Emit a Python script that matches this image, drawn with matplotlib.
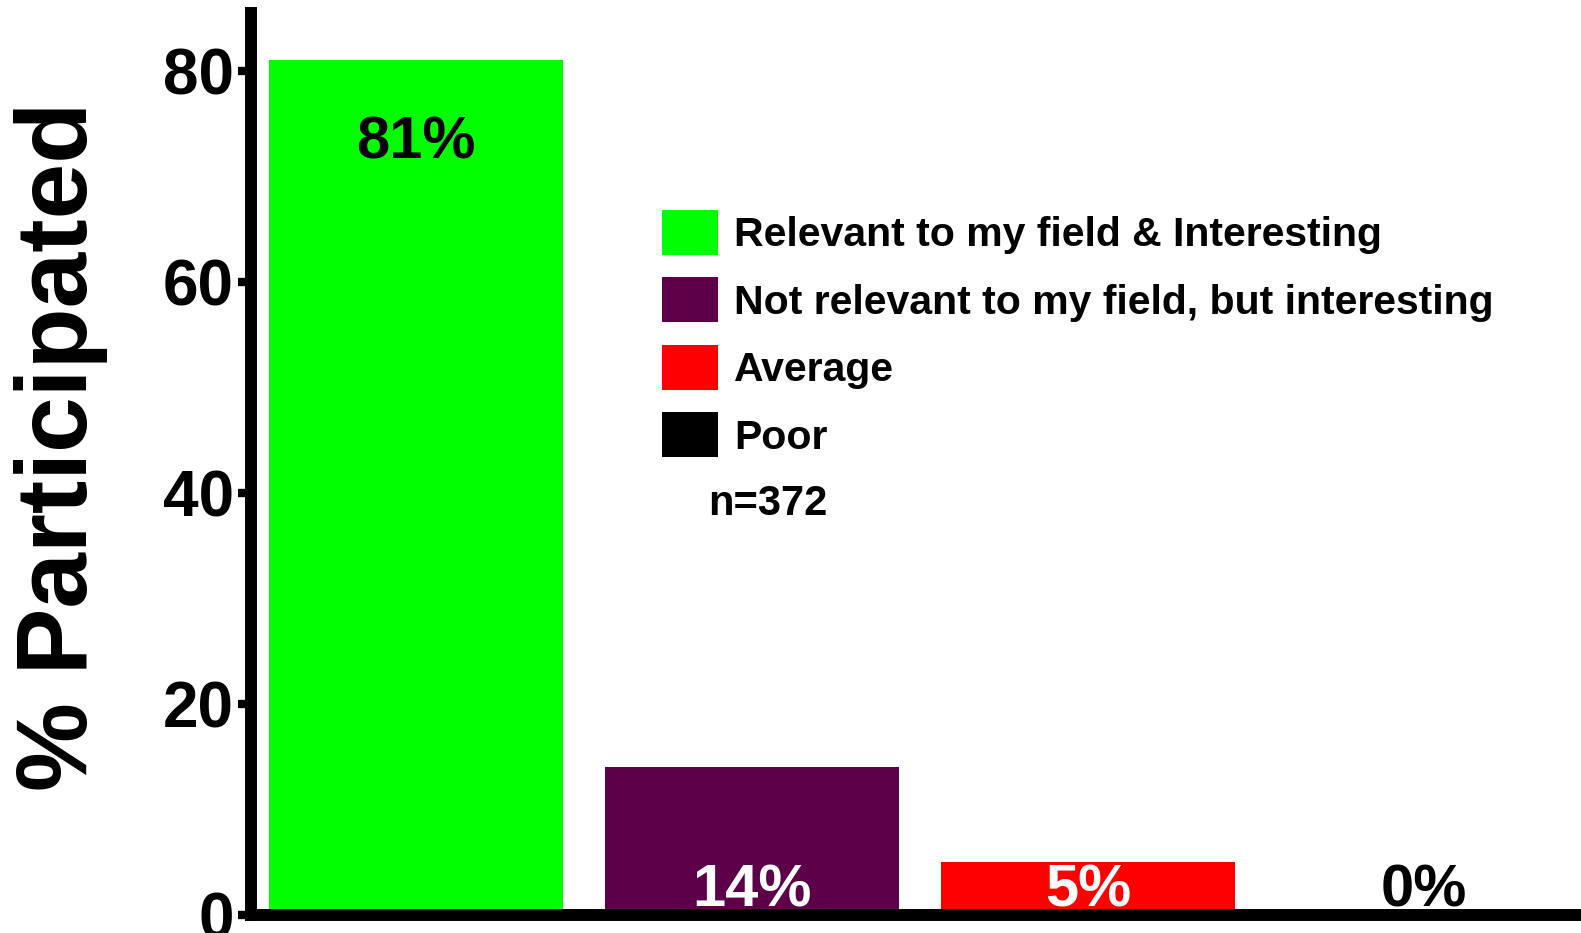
import matplotlib
matplotlib.use("Agg")
import matplotlib.pyplot as plt

plt.rcParams["font.family"] = ["Liberation Sans", "DejaVu Sans"]
plt.rcParams["font.weight"] = "bold"

# survey responses
categories = [
    "Relevant to my field & Interesting",
    "Not relevant to my field, but interesting",
    "Average",
    "Poor",
]
percent = [81, 14, 5, 0]
bar_colors = ["#00FF00", "#5E0049", "#FF0000", "#000000"]
label_colors = ["black", "white", "white", "black"]
yticks = [0, 20, 40, 60, 80]
n_total = 372

W, H = 1581, 933
fig = plt.figure(figsize=(W / 100, H / 100), dpi=100, facecolor="white")
ax = fig.add_axes([251 / W, 1 - 915 / H, 1 - 251 / W, (915 - 13) / H])

x = list(range(len(percent)))
bars = ax.bar(x, percent, width=0.875, color=bar_colors, zorder=1)

for xi, v, c in zip(x, percent, label_colors):
    # tall bars get the label inside the top, short ones sit on the axis
    ly = v - 9.3 if v > 20 else 0.8
    ax.text(xi, ly, f"{v}%", ha="center", va="baseline", color=c,
            fontsize=43, fontweight="bold", zorder=2)

ax.set_xlim(-0.491, 3.467)
ax.set_ylim(0, 85.5)
ax.set_yticks(yticks)
ax.set_xticks([])

for side in ["top", "right"]:
    ax.spines[side].set_visible(False)
for side in ["left", "bottom"]:
    ax.spines[side].set_linewidth(8.6)
    ax.spines[side].set_color("black")
    ax.spines[side].set_zorder(3)
    ax.spines[side].set_capstyle("projecting")

ax.tick_params(axis="y", direction="out", length=9.5, width=6, pad=3,
               labelsize=46, colors="black")
for lbl in ax.get_yticklabels():
    lbl.set_fontweight("bold")

ax.set_ylabel("% Participated", fontsize=72, fontweight="bold", va="center")
ax.yaxis.set_label_coords((61 - 251) / 1330, (915 - 446) / 902)

leg = ax.legend(bars.patches, categories, loc="upper left",
                bbox_to_anchor=(662 / W, 1 - 210 / H), bbox_transform=fig.transFigure,
                frameon=False, borderpad=0, borderaxespad=0,
                handlelength=1.37, handleheight=1.31, handletextpad=0.39,
                labelspacing=0.55, prop={"size": 29.5, "weight": "bold"})

fig.text(768 / W, 1 - 504 / H, f"n={n_total}", ha="center", va="center",
         fontsize=30, fontweight="bold")

fig.savefig("out.png", dpi=100, facecolor="white")
